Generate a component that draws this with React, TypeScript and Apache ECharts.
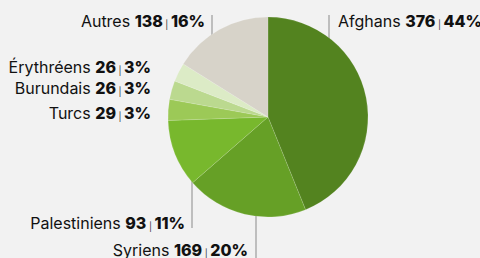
import React, { useEffect, useRef } from "react";
import * as echarts from "echarts";

const categories = ["Afghans", "Syriens", "Palestiniens", "Turcs", "Burundais", "Érythréens", "Autres"];
const values = [376, 169, 93, 29, 26, 26, 138];
const percents = ["44%", "20%", "11%", "3%", "3%", "3%", "16%"];
const colors = ["#53831f", "#66a026", "#78b82d", "#9cc957", "#bbd98f", "#dcebc6", "#d7d3c9"];

// label anchor [x, y, align] and optional leader line [[x1,y1],[x2,y2]]
const labelPos: [number, number, string][] = [
  [338, 21, "left"],
  [248, 250, "right"],
  [185, 223, "right"],
  [151, 113, "right"],
  [151, 88, "right"],
  [151, 67, "right"],
  [205, 21, "right"],
];
const leaderLines: (number[][] | null)[] = [
  [[329, 108], [329, 15]],
  [[256, 163], [256, 258]],
  [[192, 145], [192, 228]],
  null,
  null,
  null,
  [[212, 77], [212, 15]],
];

export default function App() {
  const ref = useRef<HTMLDivElement>(null);
  useEffect(() => {
    document.body.style.margin = "0";
    const chart = echarts.init(ref.current!, null, { renderer: "svg" });
    chart.setOption({
      animation: false,
      backgroundColor: "#f2f2f2",
      series: [
        {
          type: "pie",
          center: [268, 117],
          radius: [0, 100],
          startAngle: 90,
          clockwise: true,
          silent: true,
          itemStyle: { borderColor: "rgba(255,255,255,0.25)", borderWidth: 0.5 },
          data: categories.map((c, i) => ({
            name: c,
            value: values[i],
            itemStyle: { color: colors[i] },
            labelLine: { show: leaderLines[i] !== null },
          })),
          label: {
            show: true,
            overflow: "none",
            width: 300,
            formatter: (p: any) =>
              `{n|${p.name} }{b|${p.value}}{s| | }{b|${percents[p.dataIndex]}}`,
            rich: {
              n: { fontFamily: "Inter", fontSize: 16, color: "#111", fontWeight: 400 },
              b: { fontFamily: "Inter", fontSize: 16, color: "#111", fontWeight: 800 },
              s: { fontFamily: "Inter", fontSize: 9, color: "#333", verticalAlign: "bottom" },
            },
          },
          labelLine: {
            show: true,
            lineStyle: { color: "#8a8a8a", width: 1 },
          },
          labelLayout: (params: any) => {
            const i = params.dataIndex;
            const [x, y, align] = labelPos[i];
            const o: any = { x, y, align, verticalAlign: "middle" };
            if (leaderLines[i]) o.labelLinePoints = leaderLines[i];
            return o;
          },
        },
      ],
    });
    return () => chart.dispose();
  }, []);
  return <div ref={ref} style={{ width: 480, height: 258, position: "fixed", left: 0, top: 0 }} />;
}
